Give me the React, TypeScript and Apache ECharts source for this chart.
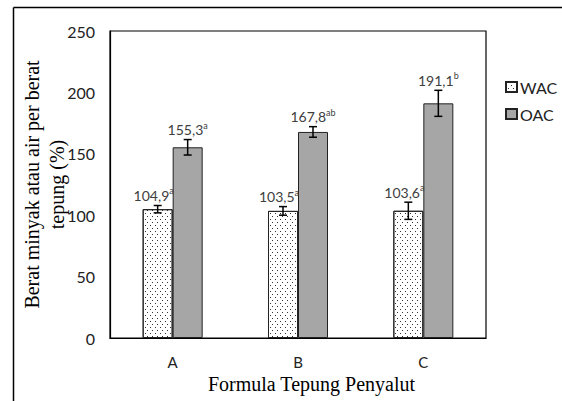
import React, { useEffect, useRef } from "react";
import * as echarts from "echarts";

const categories = ["A", "B", "C"];
const wacValues = [104.9, 103.5, 103.6];
const oacValues = [155.3, 167.8, 191.1];
const wacErrors = [3.0, 3.5, 7.0];
const oacErrors = [6.3, 4.3, 10.6];
const wacSup = ["a", "a", "a"];
const oacSup = ["a", "ab", "b"];
const yTicks = { min: 0, max: 250, interval: 50 };

const SANS = "Lato";
const SERIF = "Liberation Serif";
const BAR_W = 30;

const fmt = (v: number) => v.toFixed(1).replace(".", ",");

function errSeries(vals: number[], errs: number[], sups: string[], side: number, shift: number) {
  return {
    type: "custom",
    silent: true,
    z: 5,
    data: vals.map((v, i) => [i, v, errs[i]]),
    encode: { x: 0, y: 1 },
    renderItem: (params: any, api: any) => {
      const i = api.value(0);
      const v = api.value(1);
      const e = api.value(2);
      const cx = api.coord([i, v])[0] + (side * BAR_W) / 2;
      const top = api.coord([i, v + e])[1];
      const bot = api.coord([i, v - e])[1];
      const cap = 4;
      const st = { stroke: "#000", lineWidth: 1.5 };
      return {
        type: "group",
        children: [
          { type: "line", shape: { x1: cx, y1: top, x2: cx, y2: bot }, style: st },
          { type: "line", shape: { x1: cx - cap, y1: top, x2: cx + cap, y2: top }, style: st },
          { type: "line", shape: { x1: cx - cap, y1: bot, x2: cx + cap, y2: bot }, style: st },
          {
            type: "text",
            x: cx + shift,
            y: top - 11,
            style: {
              text: `{v|${fmt(v)}}{s|${sups[params.dataIndex]}}`,
              align: "center",
              verticalAlign: "middle",
              rich: {
                v: { fontSize: 14, fontFamily: SANS, fill: "#404040", lineHeight: 16, verticalAlign: "bottom" },
                s: { fontSize: 9, fontFamily: SANS, fill: "#404040", lineHeight: 16, verticalAlign: "top", padding: [0, 0, 6, 0] },
              },
            },
          },
        ],
      };
    },
  };
}

export default function App() {
  const ref = useRef<HTMLDivElement>(null);
  useEffect(() => {
    if (!ref.current) return;
    const chart = echarts.init(ref.current, null, { renderer: "svg" });
    chart.setOption({
      animation: false,
      backgroundColor: "#fff",
      grid: {
        left: 110,
        right: 76,
        top: 31,
        bottom: 63,
        show: true,
        borderColor: "#000",
        borderWidth: 1.2,
        backgroundColor: "#fff",
      },
      legend: {
        data: ["WAC", "OAC"],
        orient: "vertical",
        left: 500,
        top: 74,
        itemWidth: 11,
        itemHeight: 10,
        itemGap: 11,
        icon: "rect",
        textStyle: { fontFamily: SANS, fontSize: 16, color: "#222", padding: [0, 0, 0, -2] },
      },
      xAxis: {
        type: "category",
        data: categories,
        axisLine: { show: true, lineStyle: { color: "#000", width: 1.2 } },
        axisTick: { show: false },
        axisLabel: { fontFamily: SANS, fontSize: 15, color: "#222", margin: 16 },
        name: "Formula Tepung Penyalut",
        nameLocation: "middle",
        nameGap: 36,
        nameMoveOverlap: false,
        nameTextStyle: { fontFamily: SERIF, fontSize: 20, color: "#000", padding: [0, 0, 0, 27] },
      },
      yAxis: {
        type: "value",
        min: yTicks.min,
        max: yTicks.max,
        interval: yTicks.interval,
        axisLine: { show: true, lineStyle: { color: "#000", width: 1.2 } },
        axisTick: { show: false },
        splitLine: { show: false },
        axisLabel: { fontFamily: SANS, fontSize: 16, color: "#222", margin: 15 },
        name: "Berat minyak atau air per berat\ntepung (%)",
        nameLocation: "middle",
        nameGap: 41,
        nameMoveOverlap: false,
        nameTextStyle: { fontFamily: SERIF, fontSize: 20, color: "#000", lineHeight: 25 },
      },
      series: [
        {
          name: "WAC",
          type: "bar",
          data: wacValues,
          barWidth: BAR_W,
          barGap: "0%",
          itemStyle: {
            color: "#fff",
            borderColor: "#222",
            borderWidth: 1,
            decal: {
              symbol: "rect",
              symbolSize: 1,
              color: "#333",
              dashArrayX: [[1, 4], [0, 2, 1, 2]],
              dashArrayY: [1, 2],
              rotation: 0,
            },
          },
        },
        {
          name: "OAC",
          type: "bar",
          data: oacValues,
          barWidth: BAR_W,
          barGap: "0%",
          itemStyle: { color: "#a6a6a6", borderColor: "#222", borderWidth: 1 },
        },
        errSeries(wacValues, wacErrors, wacSup, -1, -4),
        errSeries(oacValues, oacErrors, oacSup, 1, 0),
      ],
      graphic: [
        { type: "line", shape: { x1: 13.5, y1: 7.5, x2: 562, y2: 7.5 }, style: { stroke: "#000", lineWidth: 1.5 } },
        { type: "line", shape: { x1: 13.5, y1: 7.5, x2: 13.5, y2: 401 }, style: { stroke: "#000", lineWidth: 1.5 } },
      ],
    });
    return () => chart.dispose();
  }, []);
  return <div ref={ref} style={{ position: "fixed", left: 0, top: 0, width: 562, height: 401 }} />;
}
